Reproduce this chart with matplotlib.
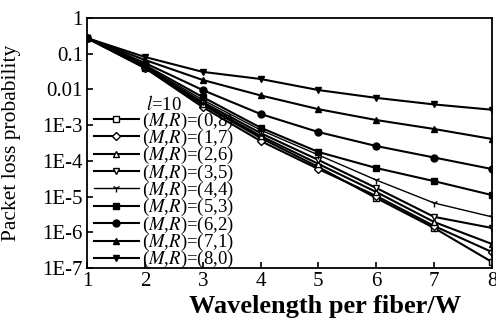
import matplotlib
matplotlib.use("Agg")
import matplotlib.pyplot as plt

plt.rcParams['font.family'] = ['Liberation Serif', 'DejaVu Serif']
plt.rcParams['mathtext.fontset'] = 'stix'

W = [1, 2, 3, 4, 5, 6, 7, 8]
labels = ['(0,8)', '(1,7)', '(2,6)', '(3,5)', '(4,4)', '(5,3)', '(6,2)', '(7,1)', '(8,0)']
s08 = [0.275, 0.040, 0.0037, 4.4e-4, 6.7e-5, 9.1e-6, 1.32e-6, 1.47e-7]
s17 = [0.275, 0.040, 0.0032, 3.6e-4, 5.9e-5, 1.04e-5, 1.5e-6, 2.8e-7]
s26 = [0.275, 0.042, 0.0039, 5.0e-4, 8.2e-5, 1.34e-5, 1.94e-6, 4.7e-7]
s35 = [0.275, 0.042, 0.0044, 6.0e-4, 1.06e-4, 1.74e-5, 2.7e-6, 1.32e-6]
s44 = [0.275, 0.045, 0.0051, 7.3e-4, 1.46e-4, 2.9e-5, 6.6e-6, 2.7e-6]
s53 = [0.275, 0.048, 0.0061, 8.5e-4, 1.77e-4, 6.3e-5, 2.7e-5, 1.1e-5]
s62 = [0.275, 0.055, 0.0096, 2.05e-3, 6.4e-4, 2.6e-4, 1.24e-4, 5.9e-5]
s71 = [0.275, 0.067, 0.0184, 6.8e-3, 2.8e-3, 1.39e-3, 7.8e-4, 4.1e-4]
s80 = [0.275, 0.081, 0.031, 0.0196, 0.0096, 0.0058, 0.0038, 0.0027]
series = [s08, s17, s26, s35, s44, s53, s62, s71, s80]

yticks = [1, 0.1, 0.01, 1e-3, 1e-4, 1e-5, 1e-6, 1e-7]
yticklabels = ['1', '0.1', '0.01', '1E-3', '1E-4', '1E-5', '1E-6', '1E-7']

styles = [
    dict(marker='s', mfc='white', ms=5),
    dict(marker='D', mfc='white', ms=4),
    dict(marker='^', mfc='white', ms=5),
    dict(marker='v', mfc='white', ms=5),
    dict(marker='1', mfc='white', ms=6, lw=1.0),
    dict(marker='s', mfc='black', ms=5),
    dict(marker='o', mfc='black', ms=5),
    dict(marker='^', mfc='black', ms=5),
    dict(marker='v', mfc='black', ms=5),
]

fig = plt.figure(figsize=(4.96, 3.24), dpi=100)
ax = fig.add_axes([87/496, 1-268/324, 405/496, 250/324])

for lab, s, st in zip(labels, series, styles):
    kw = dict(color='black', lw=1.5, mec='black', mew=1.0)
    kw.update(st)
    ax.plot(W, s, label=r'($M$,$R$)=' + lab, **kw)

ax.set_yscale('log')
ax.set_xlim(1, 8)
ax.set_ylim(1e-7, 1)
ax.set_yticks(yticks)
ax.set_yticklabels(yticklabels)
ax.minorticks_off()
ax.set_xticks(W)
ax.tick_params(direction='in', labelsize=15, length=4, width=1.2, pad=3)
for sp in ax.spines.values():
    sp.set_linewidth(1.3)

ax.set_xlabel('Wavelength per fiber/W', fontsize=19, fontweight='bold')
ax.xaxis.set_label_coords(0.588, -0.11)
ax.set_ylabel('Packet loss probability', fontsize=15.5, labelpad=15)

leg = ax.legend(title=r'$l$=10', loc='lower left', bbox_to_anchor=(0.008, -0.025),
                frameon=False, fontsize=13.5, title_fontsize=13.5,
                handlelength=2.4, handletextpad=0.15, labelspacing=-0.2,
                borderaxespad=0.1, borderpad=0.1)

fig.savefig('out.png', dpi=100)
